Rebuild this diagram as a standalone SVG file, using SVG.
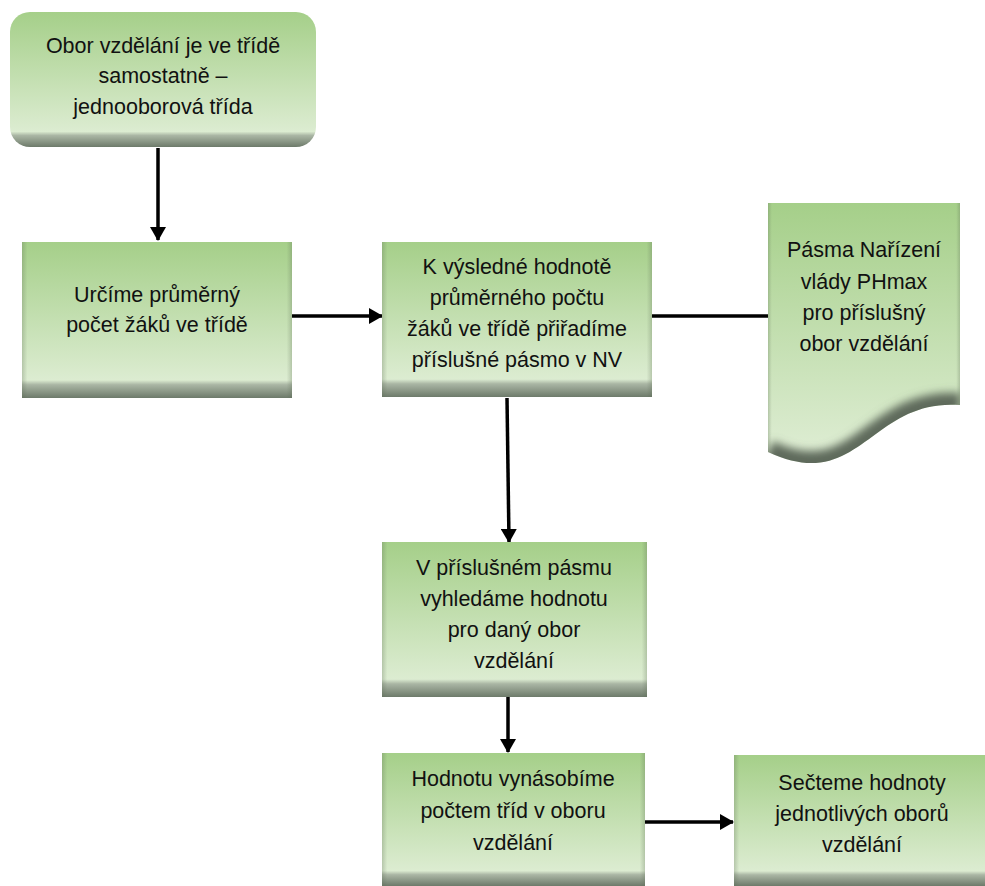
<svg xmlns="http://www.w3.org/2000/svg" width="985" height="886" viewBox="0 0 985 886">
<style>
  .lbl { font-family: "Liberation Sans", Arial, sans-serif; font-size: 21.5px; fill: #111; text-anchor: middle; }
  .box { fill: url(#gFill); }
  .edge { fill: url(#gEdge); }
  .con { stroke: #000; stroke-width: 3.5; fill: none; }
</style>
<defs>
  <linearGradient id="gFill" x1="0" y1="0" x2="0" y2="1">
    <stop offset="0" stop-color="#a5cf89"/>
    <stop offset="0.885" stop-color="#dcecd1"/>
    <stop offset="0.915" stop-color="#aab6a4"/>
    <stop offset="1" stop-color="#6d7a6a"/>
  </linearGradient>
  <linearGradient id="gDoc" x1="0" y1="0" x2="0" y2="1">
    <stop offset="0" stop-color="#a5cf89"/>
    <stop offset="1" stop-color="#e0eed6"/>
  </linearGradient>
  <linearGradient id="gEdge" x1="0" y1="0" x2="1" y2="0">
    <stop offset="0" stop-color="#5a6a52" stop-opacity="0.28"/>
    <stop offset="0.02" stop-color="#5a6a52" stop-opacity="0"/>
    <stop offset="0.98" stop-color="#5a6a52" stop-opacity="0"/>
    <stop offset="1" stop-color="#5a6a52" stop-opacity="0.28"/>
  </linearGradient>
  <filter id="blur" x="-20%" y="-50%" width="140%" height="200%">
    <feGaussianBlur stdDeviation="4"/>
  </filter>
  <clipPath id="docClip">
    <path d="M768,203 H960 V405 C870,398 860,495 768,452 Z"/>
  </clipPath>
  <marker id="arr" markerUnits="userSpaceOnUse" markerWidth="14" markerHeight="16" refX="13" refY="8" orient="auto">
    <path d="M0,0 L14,8 L0,16 Z" fill="#000"/>
  </marker>
</defs>

<g id="connectors">
  <line class="con" x1="158" y1="148" x2="158" y2="240" marker-end="url(#arr)"/>
  <line class="con" x1="292" y1="316" x2="382" y2="316" marker-end="url(#arr)"/>
  <line class="con" x1="652" y1="316" x2="768" y2="316"/>
  <line class="con" x1="507" y1="398" x2="509" y2="542" marker-end="url(#arr)"/>
  <line class="con" x1="508" y1="697" x2="508" y2="752" marker-end="url(#arr)"/>
  <line class="con" x1="645" y1="822" x2="733" y2="822" marker-end="url(#arr)"/>
</g>

<g id="n1">
  <rect class="box" x="10" y="12" width="306" height="135" rx="20"/>
  <text class="lbl" x="163" y="53">Obor vzdělání je ve třídě</text>
  <text class="lbl" x="163" y="83">samostatně –</text>
  <text class="lbl" x="163" y="114">jednooborová třída</text>
</g>

<g id="n2">
  <rect class="box" x="22" y="242" width="270" height="156"/>
  <rect class="edge" x="22" y="242" width="270" height="156"/>
  <text class="lbl" x="157" y="302">Určíme průměrný</text>
  <text class="lbl" x="157" y="332">počet žáků ve třídě</text>
</g>

<g id="n3">
  <rect class="box" x="382" y="242" width="270" height="155"/>
  <rect class="edge" x="382" y="242" width="270" height="155"/>
  <text class="lbl" x="517" y="274">K výsledné hodnotě</text>
  <text class="lbl" x="517" y="305">průměrného počtu</text>
  <text class="lbl" x="517" y="336">žáků ve třídě přiřadíme</text>
  <text class="lbl" x="517" y="367">příslušné pásmo v NV</text>
</g>

<g id="n4">
  <path d="M768,203 H960 V405 C870,398 860,495 768,452 Z" fill="url(#gDoc)"/>
  <g clip-path="url(#docClip)">
    <path d="M960,405 C870,398 860,495 768,452" stroke="#5f6b5c" stroke-width="24" fill="none" filter="url(#blur)"/>
    <rect class="edge" x="768" y="203" width="192" height="270"/>
  </g>
  <text class="lbl" x="864" y="257">Pásma Nařízení</text>
  <text class="lbl" x="864" y="289">vlády PHmax</text>
  <text class="lbl" x="864" y="320">pro příslušný</text>
  <text class="lbl" x="864" y="351">obor vzdělání</text>
</g>

<g id="n5">
  <rect class="box" x="382" y="542" width="265" height="155"/>
  <rect class="edge" x="382" y="542" width="265" height="155"/>
  <text class="lbl" x="514" y="575">V příslušném pásmu</text>
  <text class="lbl" x="514" y="606">vyhledáme hodnotu</text>
  <text class="lbl" x="514" y="637">pro daný obor</text>
  <text class="lbl" x="514" y="668">vzdělání</text>
</g>

<g id="n6">
  <rect class="box" x="382" y="753" width="263" height="133"/>
  <rect class="edge" x="382" y="753" width="263" height="133"/>
  <text class="lbl" x="513" y="786">Hodnotu vynásobíme</text>
  <text class="lbl" x="513" y="818">počtem tříd v oboru</text>
  <text class="lbl" x="513" y="850">vzdělání</text>
</g>

<g id="n7">
  <rect class="box" x="734" y="755" width="260" height="131"/>
  <rect class="edge" x="734" y="755" width="260" height="131"/>
  <text class="lbl" x="862" y="790">Sečteme hodnoty</text>
  <text class="lbl" x="862" y="821">jednotlivých oborů</text>
  <text class="lbl" x="862" y="852">vzdělání</text>
</g>
</svg>
